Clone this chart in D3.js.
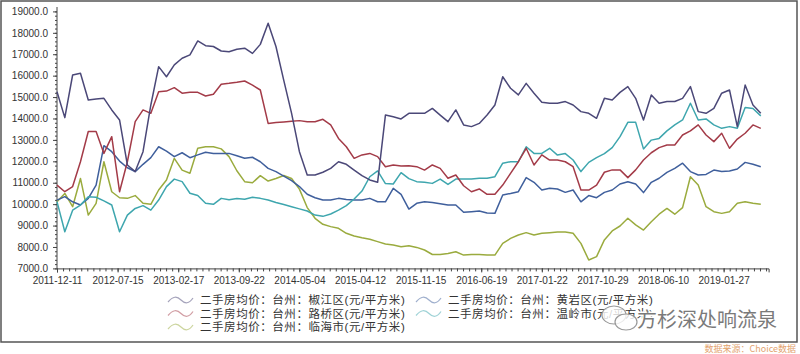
<!DOCTYPE html>
<html>
<head>
<meta charset="utf-8">
<script src="https://cdn.jsdelivr.net/npm/d3@7"></script>
<style>
body{margin:0;background:#fff;}
svg{display:block;font-family:"Liberation Sans",Arial,sans-serif;}
</style>
</head>
<body>
<div id="chart"></div>
<script>
// x axis labels, one every 31 weekly points
const tickLabels=["2011-12-11","2012-07-15","2013-02-17","2013-09-22","2014-05-04","2015-04-12",
    "2015-11-15","2016-06-19","2017-01-22","2017-10-29","2018-06-10","2019-01-27"];
const tickGap=31;
const sampleStep=4;   // values below are read every 4th week
const lastWeek=364;

const yTicks=[7000,8000,9000,10000,11000,12000,13000,14000,15000,16000,17000,18000,19000];

const seriesNames=["二手房均价：台州：椒江区(元/平方米)","二手房均价：台州：黄岩区(元/平方米)",
    "二手房均价：台州：路桥区(元/平方米)","二手房均价：台州：温岭市(元/平方米)",
    "二手房均价：台州：临海市(元/平方米)"];
const seriesColors=["#4b4878","#3f5f9c","#a33b48","#3ea6ae","#9aab3e"];

const jiaojiang=[15250,14040,16030,16110,14860,14910,14940,14400,13930,11830,11520,12450,14630,16420,15950,16500,
    16810,16970,17620,17400,17360,17150,17120,17230,17280,17040,17460,18450,17360,15780,14240,12450,
    11360,11360,11490,11670,11980,11860,11590,11330,11130,11020,14160,14080,13980,14240,14240,14240,
    14470,14160,13850,14400,13700,13620,13770,14160,14630,15950,15410,15100,15640,15180,
    14760,14710,14710,14790,14630,14320,14240,14010,14940,14860,15220,15490,14940,13930,15100,14710,
    14790,14790,14940,15490,14320,14240,14470,15180,15330,13620,15560,14630,14240];
const huangyan=[10190,10350,10110,9960,10270,10890,12730,12450,12010,11700,11520,11860,12170,12680,12480,12220,
    12400,12170,12300,12420,12370,12370,12370,12260,12140,12190,11980,11670,11520,11310,11100,10820,
    10460,10300,10190,10190,10270,10220,10190,10190,10270,10110,10110,10740,10460,9770,10040,10110,
    10080,10020,9960,9960,9620,9650,9680,9590,9570,10430,10500,10580,11240,11020,
    10660,10740,10710,10550,10660,10110,10400,10300,10550,10660,10940,11050,10940,10540,11020,11210,
    11480,11670,11910,11520,11360,11390,11590,11520,11550,11640,11950,11860,11750];
const luqiao=[10890,10580,10820,11980,13390,13390,12370,13150,10580,11980,13850,14400,14240,15250,15280,15440,
    15180,15220,15220,15050,15130,15600,15640,15690,15750,15560,15330,13770,13810,13840,13870,13900,
    13850,13850,13960,13700,13070,12680,12140,12300,12370,12220,11750,11830,11780,11790,11750,11590,
    11830,11670,11210,11360,10860,10580,10710,10460,10460,10890,11440,11980,12610,11830,
    12300,12060,12060,11980,11750,10660,10660,10890,11490,11600,11600,11240,11600,12060,12400,12640,
    12760,12760,13230,13420,13700,13230,12920,13310,12610,13040,13310,13700,13540];
const wenling=[10120,8710,9720,9960,10350,10320,10150,9960,8710,9490,9800,9930,9720,10190,10820,11170,
    11050,10510,10400,10040,9990,10270,10210,10260,10230,10320,10270,10190,10080,9980,9880,9780,
    9680,9490,9430,9540,9720,9930,10240,10610,11280,11550,10960,10940,11470,11190,11050,11020,
    10970,11170,10920,11170,11170,11170,11210,11210,11280,11910,11980,11980,12680,12370,
    12370,12610,12290,12360,12060,11520,11950,12170,12360,12640,13150,13820,13820,12580,12990,13070,
    13420,13700,13930,14710,13930,13980,13700,13540,13620,13540,14510,14470,14120];
const linhai=[10110,10500,9880,11200,9490,10040,11980,10580,10300,10270,10400,10040,9990,10660,11130,12140,
    11590,11440,12610,12680,12680,12580,12220,11560,11050,11000,11330,11080,11200,11340,11200,10700,
    9840,9340,9060,8950,8870,8640,8510,8430,8360,8250,8140,8090,8010,8060,7980,7860,
    7650,7650,7700,7780,7620,7650,7650,7620,7620,8170,8400,8560,8670,8560,
    8640,8670,8700,8700,8640,8170,7390,7550,8330,8750,8980,9340,9030,8790,9180,9530,
    9800,9530,9840,11280,10890,9880,9650,9570,9650,10040,10110,10040,9990];

const allSeries=[jiaojiang,huangyan,luqiao,wenling,linhai];

function drawChart(){
    const width=800, height=354;
    const svg=d3.select("#chart").append("svg")
        .attr("width",width).attr("height",height);

    svg.append("rect")
        .attr("x",1).attr("y",1).attr("width",width-4).attr("height",341)
        .attr("fill","#fff").attr("stroke","#555").attr("stroke-width",1.5);

    let x_scale=d3.scaleLinear().domain([0,lastWeek]).range([57,768.6]);
    let y_scale=d3.scaleLinear().domain([7000,19000]).range([268.4,11.4]);

    // minor ticks first
    svg.append("g")
        .attr("transform","translate(57,0)")
        .call(d3.axisLeft(y_scale).tickValues(d3.range(7000,19001,200)).tickSize(2).tickFormat(""))
        .call(g=>g.select(".domain").remove())
        .selectAll("line").attr("stroke","#444");
    svg.append("g")
        .attr("transform","translate(0,268.4)")
        .call(d3.axisBottom(x_scale).tickValues(d3.range(0,lastWeek+1,tickGap/10)).tickSize(3).tickFormat(""))
        .call(g=>g.select(".domain").remove())
        .selectAll("line").attr("stroke","#444");

    let yAxis=svg.append("g")
        .attr("transform","translate(57,0)")
        .call(d3.axisLeft(y_scale).tickValues(yTicks).tickSize(4).tickPadding(5).tickFormat(d3.format(".1f")));
    yAxis.select(".domain").attr("stroke","#444").attr("d","M0,268.4V7");
    yAxis.selectAll("line").attr("stroke","#444");
    yAxis.selectAll("text").attr("fill","#333").style("font-size","10px");

    let xAxis=svg.append("g")
        .attr("transform","translate(0,268.4)")
        .call(d3.axisBottom(x_scale).tickValues(tickLabels.map((d,i)=>i*tickGap))
            .tickSize(4).tickPadding(5).tickFormat((d,i)=>tickLabels[i]));
    xAxis.select(".domain").attr("stroke","#444");
    xAxis.selectAll("line").attr("stroke","#444");
    xAxis.selectAll("text").attr("fill","#333").style("font-size","10px");

    let line=d3.line()
        .x((d,i)=>x_scale(i*sampleStep))
        .y(d=>y_scale(d));

    // draw the lower series first so the top lines sit above
    [4,1,3,2,0].forEach(s=>{
        svg.append("path")
            .datum(allSeries[s])
            .attr("d",line)
            .attr("fill","none")
            .attr("stroke",seriesColors[s])
            .attr("stroke-width",1.5)
            .attr("stroke-linejoin","round");
    });

    // legend, two columns, row by row
    let legend=svg.append("g");
    seriesNames.forEach((name,i)=>{
        let col=i%2, row=Math.floor(i/2);
        let g=legend.append("g")
            .attr("transform","translate("+(168+col*248)+","+(300+row*13.5)+")");
        g.append("path")
            .attr("d","M0,2 C5,-4 9,-4 13,0 S21,4 25,-2")
            .attr("fill","none")
            .attr("stroke",seriesColors[i])
            .attr("stroke-opacity",0.5)
            .attr("stroke-width",1.2);
        g.append("text")
            .attr("x",32).attr("dy","0.36em")
            .attr("fill","#333")
            .style("font-size","11.5px")
            .style("letter-spacing","0.55px")
            .style("font-family","'Liberation Sans','Noto Sans CJK SC',sans-serif")
            .text(name);
    });

    // watermark
    let wm=svg.append("g").attr("transform","translate(600,305)");
    wm.append("ellipse").attr("cx",14).attr("cy",10).attr("rx",12).attr("ry",9)
        .attr("fill","rgba(255,255,255,0.8)").attr("stroke","#999").attr("stroke-width",1.2);
    wm.append("ellipse").attr("cx",26).attr("cy",17).attr("rx",11).attr("ry",8)
        .attr("fill","rgba(255,255,255,0.8)").attr("stroke","#999").attr("stroke-width",1.2);
    svg.append("text")
        .attr("x",637).attr("y",327)
        .attr("fill","#7a7a7a")
        .attr("stroke","#fff").attr("stroke-width",3).attr("paint-order","stroke")
        .style("font-size","20px")
        .style("font-family","'Noto Sans CJK SC',sans-serif")
        .text("方杉深处响流泉");

    svg.append("text")
        .attr("x",796).attr("y",352)
        .attr("text-anchor","end")
        .attr("fill","#e3a36f")
        .style("font-size","9px")
        .style("font-family","'Noto Sans CJK SC',sans-serif")
        .text("数据来源：Choice数据");
}

drawChart();
</script>
</body>
</html>
